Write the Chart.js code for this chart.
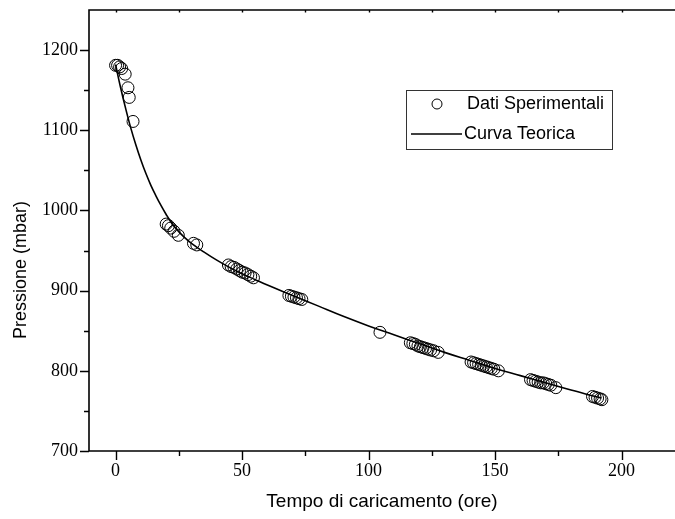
<!DOCTYPE html>
<html>
<head>
<meta charset="utf-8">
<script src="https://cdn.jsdelivr.net/npm/chart.js@4.4.1/dist/chart.umd.min.js"></script>
<style>
  html, body { margin: 0; padding: 0; background: #fff; }
  #wrap { width: 675px; height: 519px; }
</style>
</head>
<body>
<div id="wrap"><canvas id="pressChart" width="675" height="519"></canvas></div>
<script>
// measured points (ore, mbar)
var expX = [0, 0.8, 1.6, 2.4, 3.8, 4.9, 5.4, 6.9,
  20, 20.9, 21.8, 23.1, 24.8, 30.8, 32.1,
  44.6, 45.7, 46.8, 47.9, 49, 50.1, 51.2, 52.3, 53.4, 54.5,
  68.5, 69.5, 70.5, 71.5, 72.5, 73.6,
  104.5,
  116.5, 117.5, 118.5, 119.5, 120.5, 121.5, 122.5, 123.5, 124.5, 125.7, 127.5,
  140.5, 141.5, 142.5, 143.5, 144.5, 145.5, 146.5, 147.5, 148.5, 149.5, 151.3,
  164, 165, 166, 167, 168, 169, 170, 171, 172, 174,
  188.5, 189.5, 190.5, 191.5, 192.2];
var expY = [1181, 1181, 1179, 1177, 1170, 1153, 1141, 1111,
  983, 981, 978, 974, 969, 959, 957,
  932, 930, 929, 927, 925, 923, 922, 920, 918, 916,
  894, 893, 892, 891, 890, 889,
  848,
  835, 834, 833, 831, 830, 829, 828, 827, 826, 825, 823,
  811, 810, 809, 808, 807, 806, 805, 804, 803, 802, 800,
  789, 788, 787, 786, 785, 785, 784, 783, 782, 779,
  768, 767, 766, 765, 764];

// theoretical curve
var curveX = [0, 2, 4, 6, 8, 10, 12, 14, 16, 18, 20, 22, 24, 27, 30, 35, 40, 45, 50, 55, 60,
  70, 80, 90, 100, 110, 120, 130, 140, 150, 160, 170, 180, 192];
var curveY = [1182, 1153, 1127, 1103, 1082, 1063, 1046, 1031, 1018, 1006, 995, 985, 977, 967, 959, 948, 938, 929, 921, 914, 907,
  894, 881, 868, 856, 845, 834, 823, 813, 803, 794, 785, 776, 766];

var xTicks = [0, 50, 100, 150, 200];
var xMinor = [25, 75, 125, 175];
var yTicks = [700, 800, 900, 1000, 1100, 1200];
var yMinor = [750, 850, 950, 1050, 1150];

var expLabel = 'Dati Sperimentali';
var curveLabel = 'Curva Teorica';
var xTitle = 'Tempo di caricamento (ore)';
var yTitle = 'Pressione (mbar)';

function toPoints(xs, ys) {
  return xs.map(function(v, i) { return { x: v, y: ys[i] }; });
}

// axis frame (right side falls outside the picture), tick marks, y title and boxed legend
var framePlugin = {
  id: 'frame',
  afterDraw: function(chart) {
    var ctx = chart.ctx, a = chart.chartArea;
    var xs = chart.scales.x, ys = chart.scales.y;
    ctx.save();
    ctx.strokeStyle = '#000';
    ctx.lineWidth = 1.6;
    ctx.beginPath();
    ctx.moveTo(chart.width + 2, a.top);
    ctx.lineTo(a.left, a.top);
    ctx.lineTo(a.left, a.bottom);
    ctx.lineTo(chart.width + 2, a.bottom);
    ctx.stroke();

    ctx.lineWidth = 1.4;
    ctx.beginPath();
    xTicks.concat(xMinor).forEach(function(v) {
      var px = Math.round(xs.getPixelForValue(v)) + 0.5;
      var len = xTicks.indexOf(v) >= 0 ? 9 : 5;
      ctx.moveTo(px, a.bottom); ctx.lineTo(px, a.bottom + len);
      ctx.moveTo(px, a.top); ctx.lineTo(px, a.top + 2.5);
    });
    yTicks.concat(yMinor).forEach(function(v) {
      var py = Math.round(ys.getPixelForValue(v)) + 0.5;
      var len = yTicks.indexOf(v) >= 0 ? 9 : 5;
      ctx.moveTo(a.left, py); ctx.lineTo(a.left - len, py);
    });
    ctx.stroke();

    // y axis title
    ctx.fillStyle = '#000';
    ctx.font = '18px "Liberation Sans", Arial, sans-serif';
    ctx.textAlign = 'center';
    ctx.textBaseline = 'middle';
    ctx.save();
    ctx.translate(21, 270);
    ctx.rotate(-Math.PI / 2);
    ctx.fillText(yTitle, 0, 0);
    ctx.restore();

    // legend
    var ds = chart.data.datasets;
    var bx = 406, by = 90, bw = 206, bh = 59;
    ctx.lineWidth = 1;
    ctx.strokeStyle = '#333';
    ctx.strokeRect(bx + 0.5, by + 0.5, bw, bh);
    ctx.textAlign = 'left';
    ctx.font = '18px "Liberation Sans", Arial, sans-serif';
    ctx.strokeStyle = '#000';
    ctx.beginPath();
    ctx.arc(bx + 31, by + 14, 5, 0, Math.PI * 2);
    ctx.stroke();
    ctx.fillText(ds[0].label, bx + 61, by + 14);
    ctx.lineWidth = 1.5;
    ctx.beginPath();
    ctx.moveTo(bx + 5, by + 44); ctx.lineTo(bx + 56, by + 44);
    ctx.stroke();
    ctx.fillText(ds[1].label, bx + 58, by + 44);
    ctx.restore();
  }
};

new Chart(document.getElementById('pressChart'), {
  type: 'scatter',
  data: {
    datasets: [{
      label: expLabel,
      data: toPoints(expX, expY),
      pointRadius: 6,
      pointBorderWidth: 1,
      pointBorderColor: '#000',
      pointBackgroundColor: 'rgba(0,0,0,0)',
      showLine: false
    }, {
      label: curveLabel,
      data: toPoints(curveX, curveY),
      showLine: true,
      pointRadius: 0,
      borderColor: '#000',
      borderWidth: 1.6,
      tension: 0.4
    }]
  },
  options: {
    responsive: false,
    animation: false,
    layout: { autoPadding: false, padding: { top: 10, right: 0, left: 0, bottom: 0 } },
    plugins: { legend: { display: false }, tooltip: { enabled: false } },
    scales: {
      x: {
        type: 'linear', min: -10.5, max: 221.1,
        grid: { display: false, drawTicks: false },
        border: { display: false },
        afterBuildTicks: function(s) { s.ticks = xTicks.map(function(v) { return { value: v }; }); },
        afterFit: function(s) { s.height = 68; s.paddingLeft = 0; s.paddingRight = 0; },
        ticks: { color: '#000', padding: 9, maxRotation: 0, font: { family: '"Liberation Serif", "Times New Roman", serif', size: 18 } },
        title: { display: true, text: xTitle, color: '#000', padding: { top: 0, bottom: 6 }, font: { family: '"Liberation Sans", Arial, sans-serif', size: 19 } }
      },
      y: {
        type: 'linear', min: 700, max: 1250,
        grid: { display: false, drawTicks: false },
        border: { display: false },
        afterBuildTicks: function(s) { s.ticks = yTicks.map(function(v) { return { value: v }; }); },
        afterFit: function(s) { s.width = 89; s.paddingTop = 0; s.paddingBottom = 0; },
        ticks: {
          color: '#000', padding: 11,
          font: { family: '"Liberation Serif", "Times New Roman", serif', size: 18 },
          callback: function(v) { return String(v); }
        }
      }
    }
  },
  plugins: [framePlugin]
});
</script>
</body>
</html>
